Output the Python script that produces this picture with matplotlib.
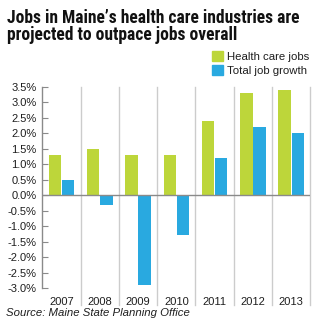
import matplotlib
matplotlib.use("Agg")
import matplotlib.pyplot as plt
import numpy as np
from matplotlib.patches import Rectangle
from matplotlib import font_manager

years = ["2007", "2008", "2009", "2010", "2011", "2012", "2013"]
health_care = [1.3, 1.5, 1.3, 1.3, 2.4, 3.3, 3.4]
total_growth = [0.5, -0.3, -2.9, -1.3, 1.2, 2.2, 2.0]
yticks = [3.5, 3.0, 2.5, 2.0, 1.5, 1.0, 0.5, 0.0, -0.5, -1.0, -1.5, -2.0, -2.5, -3.0]
title_lines = ["Jobs in Maine\u2019s health care industries are", "projected to outpace jobs overall"]
legend_labels = ["Health care jobs", "Total job growth"]
source = "Source: Maine State Planning Office"

GREEN = "#bdd63a"
BLUE = "#29a9e0"
GRID = "#cccccc"
AXC = "#8a8a8a"
TXT = "#1e1e1e"
BODY = ["Liberation Sans", "DejaVu Sans"]

# pick a condensed bold face for the title if available
entries = font_manager.fontManager.ttflist
title_kw = dict(family=["Roboto", "DejaVu Sans"])
for nm in ["Liberation Sans Narrow", "Roboto Condensed", "Open Sans Condensed", "DejaVu Sans Condensed"]:
    if any(e.name == nm for e in entries):
        title_kw = dict(family=[nm, "DejaVu Sans"])
        break
else:
    cond = [e for e in entries if e.name == "DejaVu Sans" and "ondensed" in str(e.stretch) and "bold" in str(e.weight)]
    if cond:
        title_kw = dict(family=["DejaVu Sans"], fontstretch="condensed")

W, H = 324, 331
fig = plt.figure(figsize=(W / 100, H / 100), dpi=100)
ax = fig.add_axes([42.3 / W, 1 - 288 / H, (310.4 - 42.3) / W, (288 - 87) / H])

x = np.arange(len(years))
bw = 0.325
ax.bar(x - 0.173, health_care, width=bw, color=GREEN, zorder=2)
ax.bar(x + 0.173, total_growth, width=bw, color=BLUE, zorder=2)

ax.set_xlim(-0.5, len(years) - 0.5)
ax.set_ylim(-3.0, 3.5)
for b in np.arange(0.5, len(years), 1.0):
    ax.axvline(b, ymin=-0.085, ymax=1.0, color=GRID, lw=1.0, zorder=1, clip_on=False)
ax.axhline(0, color=AXC, lw=1.0, zorder=3)

for s in ["top", "right", "bottom"]:
    ax.spines[s].set_visible(False)
ax.spines["left"].set_color(AXC)
ax.spines["left"].set_linewidth(1.0)

ax.set_yticks(yticks)
ax.set_yticklabels([f"{v:.1f}%" for v in yticks], family=BODY)
ax.tick_params(axis="y", direction="in", length=4, color=AXC, pad=4, labelsize=8, labelcolor=TXT)
ax.set_xticks(x)
ax.set_xticklabels(years, family=BODY)
ax.tick_params(axis="x", length=0, pad=6.5, labelsize=8, labelcolor=TXT)

# title, fitted to the reference width
renderer = fig.canvas.get_renderer()
t1 = fig.text(7 / W, 1 - 23 / H, title_lines[0], fontsize=12, fontweight="bold", color="#111111", **title_kw)
wpx = t1.get_window_extent(renderer).width
fs = 12 * 295.0 / wpx
t1.set_fontsize(fs)
fig.text(7 / W, 1 - 40.5 / H, title_lines[1], fontsize=fs, fontweight="bold", color="#111111", **title_kw)

# legend
fig.patches.append(Rectangle((212.3 / W, 1 - 61 / H), 11 / W, 9.5 / H, transform=fig.transFigure, color=GREEN))
fig.patches.append(Rectangle((212.3 / W, 1 - 75 / H), 11 / W, 9.5 / H, transform=fig.transFigure, color=BLUE))
fig.text(227.3 / W, 1 - 56.5 / H, legend_labels[0], fontsize=8.2, va="center", color=TXT, family=BODY)
fig.text(227.3 / W, 1 - 70.5 / H, legend_labels[1], fontsize=8.2, va="center", color=TXT, family=BODY)

fig.text(6 / W, 1 - 312.5 / H, source, fontsize=8.2, style="italic", va="center", color=TXT, family=BODY)

fig.savefig("out.png", dpi=100)
